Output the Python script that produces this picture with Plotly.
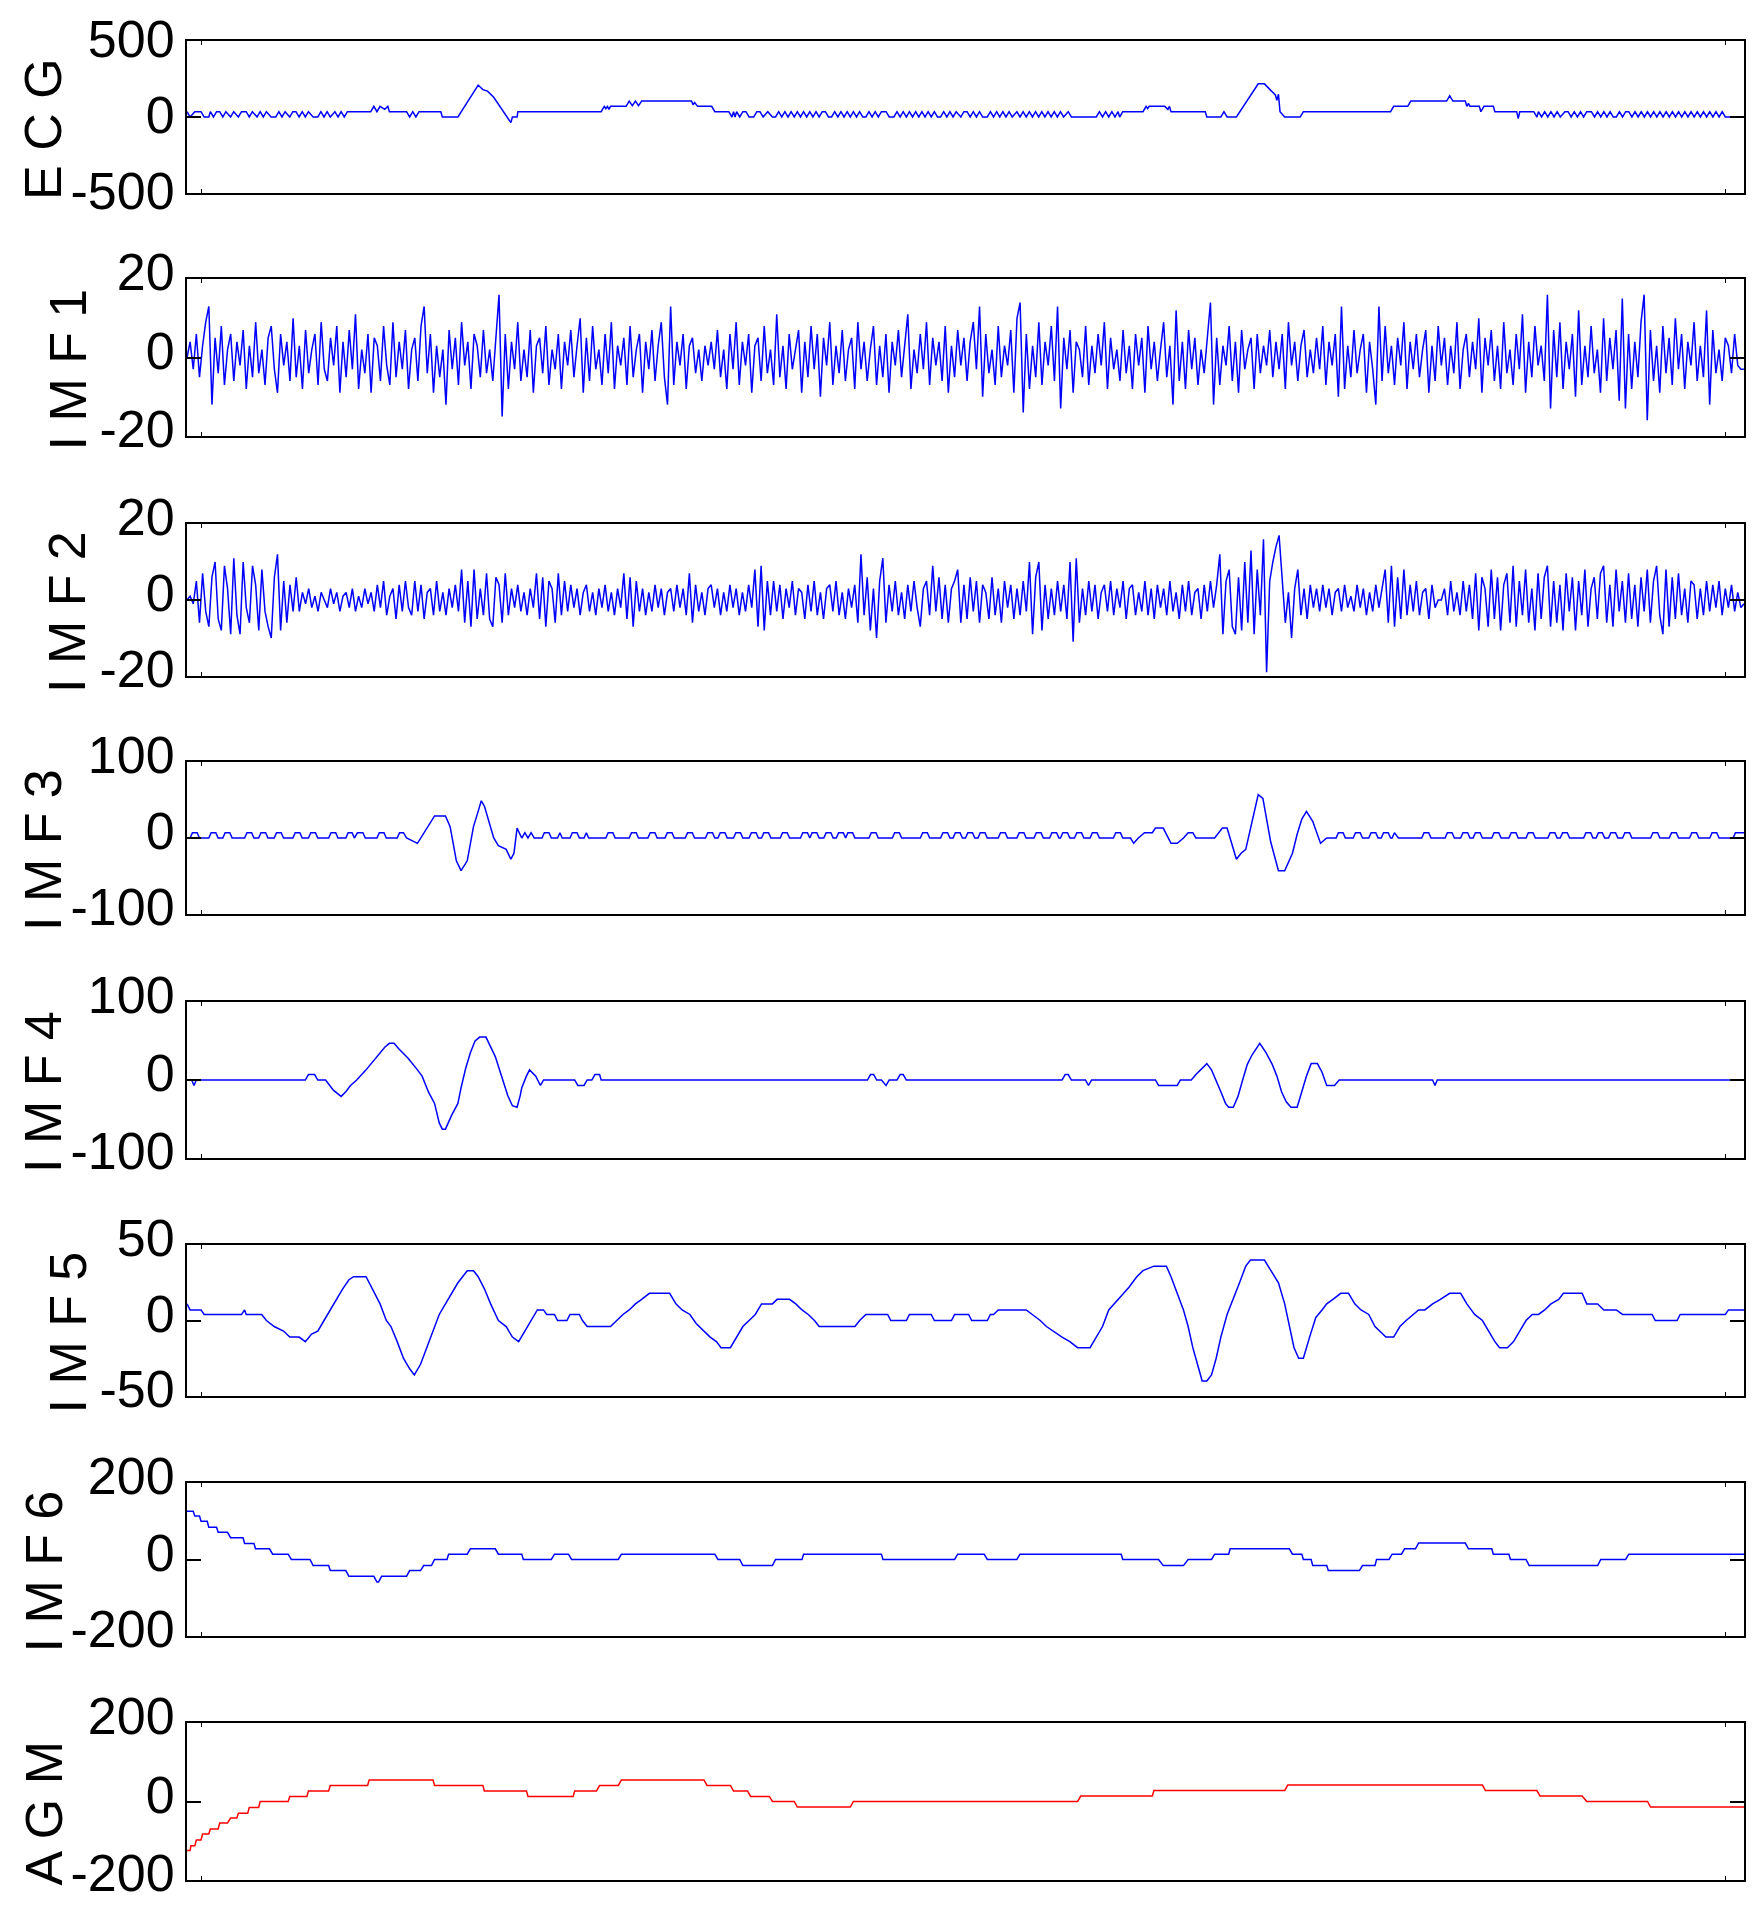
import numpy as np
import plotly.graph_objects as go

# ---------------- data (x in samples 0..1000, y in signal units) ----------------
ecg_pts = [(0,35),(2,0),(5,35),(9,35),(11,0),(14,0),(15,35),(17,0),(19,35),(21,35),(23,0),(25,35),(28,0),(30,35),(33,0),(35,35),(38,35),(40,0),
    (42,35),(45,0),(47,35),(49,0),(51,35),(54,0),(57,0),(59,35),(61,0),(63,35),(66,0),(68,35),(70,35),(72,0),(74,35),(76,0),(78,35),(81,0),(84,0),
    (86,35),(88,0),(90,35),(92,0),(95,35),(97,0),(99,35),(101,0),(103,35),(118,35),(120,70),(122,35),(124,70),(127,50),(129,70),(130,35),(141,35),
    (143,0),(145,35),(147,0),(149,35),(152,35),(163,35),(164,0),(174,0),(187,210),(190,180),(193,170),(197,130),(208,-37),(209,0),(212,0),(212.5,35),
    (266,35),(268,70),(269,55),(270,70),(271,50),(272,70),(282,70),(284,105),(286,75),(288,105),(290,75),(292,105),(324,105),(325,80),(326,95),
    (328,70),(337,70),(339,35),(348,35),(350,0),(351,35),(352,0),(353,35),(355,0),(357,35),(359,35),(361,0),(364,0),(366,35),(368,35),(370,0),
    (373,35),(376,0),(378,0),(380,35),(382,0),(384,35),(386,0),(388,35),(390,0),(392,35),(394,0),(396,35),(398,0),(400,35),(402,0),(404,35),
    (406,0),(408,35),(410,35),(412,0),(414,0),(416,35),(418,0),(420,35),(422,0),(424,35),(426,0),(428,35),(430,0),(432,35),(434,0),(436,0),
    (438,35),(440,0),(442,35),(444,0),(446,35),(449,35),(451,0),(454,0),(456,35),(458,0),(460,35),(462,0),(464,35),(466,0),(468,35),(470,0),
    (472,35),(474,0),(476,35),(478,0),(480,35),(482,0),(484,0),(486,35),(488,0),(490,35),(492,0),(494,35),(497,0),(499,35),(501,35),(503,0),
    (505,35),(507,0),(509,35),(511,0),(514,0),(516,35),(518,0),(520,35),(522,0),(524,35),(526,0),(528,35),(530,0),(533,35),(535,0),(537,35),
    (539,0),(541,35),(543,0),(545,35),(547,0),(549,35),(551,0),(553,35),(555,0),(557,35),(559,0),(561,35),(563,0),(566,35),(568,0),(584,0),
    (586,35),(588,0),(590,35),(592,0),(594,35),(596,0),(598,35),(599,0),(601,35),(614,35),(616,70),(617,55),(618,70),(628,70),(630,50),(631,70),
    (632,35),(654,35),(655,0),(664,0),(666,35),(668,0),(674,0),(688,218),(692,218),(699,145),(700,110),(701,150),(702,35),(705,0),(715,0),
    (717,35),(773,35),(775,70),(784,70),(786,105),(809,105),(811,140),(813,105),(821,105),(822,70),(823,90),(824,70),(830,70),(831,35),(833,70),
    (839,70),(840,35),(854,35),(855,-10),(856,35),(865,35),(867,0),(868,35),(870,0),(872,35),(874,0),(876,35),(878,0),(880,35),(882,0),(885,35),
    (887,35),(889,0),(891,35),(893,0),(895,35),(897,0),(899,35),(902,35),(904,0),(906,35),(908,0),(910,35),(912,0),(914,35),(916,0),(918,0),
    (920,35),(922,0),(924,35),(926,35),(928,0),(930,35),(932,0),(934,35),(936,0),(938,35),(940,0),(942,35),(944,0),(946,35),(948,0),(950,35),
    (952,0),(954,35),(956,0),(958,35),(960,0),(962,35),(964,0),(966,35),(968,0),(970,35),(972,0),(974,35),(976,0),(978,35),(980,0),(982,35),
    (984,0),(986,35),(988,0),(1000,0)]

imf1_vals = [
    0,4,-3,6,-5,3,9,13,-12,5,-4,8,-7,2,6,-6,4,-2,7,-8,3,-5,9,-4,2,
    -7,5,8,-3,-9,6,-2,4,-6,10,-5,3,-8,7,-4,2,6,-7,9,-3,-6,5,-2,8,-9,
    4,-5,7,-3,11,-8,2,-4,6,-9,5,3,-6,8,-2,-7,9,-5,4,-3,7,-8,2,5,-6,
    8,13,-4,6,-9,3,-5,2,-12,7,-3,5,-7,9,-2,4,-8,6,3,-5,7,-4,2,-6,5,
    16,-15,6,-8,4,-3,9,-6,2,-5,7,-9,3,5,-4,8,-7,2,-3,6,-8,4,-2,7,-5,
    3,10,-9,5,-6,8,-3,2,-7,6,-4,9,-8,3,-2,5,-7,8,-5,2,6,-9,4,-3,7,
    -6,3,9,-5,-12,13,-7,4,-2,6,-8,3,5,-4,2,-6,3,-2,4,-3,7,-5,2,-8,6,
    -3,9,-7,4,-2,6,-9,3,5,-6,8,-4,2,-7,11,-5,3,-8,6,-3,2,7,-9,4,-5,
    8,-3,6,-10,5,-2,9,-7,3,-4,7,-6,2,5,-8,9,-3,4,-6,2,8,-7,3,-5,6,
    -9,4,-2,7,-5,3,11,-8,2,-4,6,-3,9,-7,5,-2,4,-6,8,-9,3,-5,7,-2,5,
    -6,4,9,-3,13,-10,6,-4,2,-7,8,-5,3,-2,7,-9,10,14,-14,6,-8,3,-5,9,-7,
    4,-2,8,-6,13,-13,5,-3,7,-9,4,2,-5,8,-7,3,-4,6,-2,9,-8,5,-3,2,-6,
    7,-4,3,-8,6,-2,5,-9,8,-3,4,-6,2,9,-5,3,-12,12,-6,4,-8,7,-3,5,-7,
    2,-4,6,14,-12,5,-7,3,-2,8,-6,4,-9,7,-3,2,5,-8,6,-4,3,-2,7,-5,4,
    -3,6,-8,9,-2,4,-6,3,7,-5,2,-4,5,-3,8,-7,4,-2,6,-10,13,-8,3,-5,7,
    -4,2,6,-9,4,-3,-12,13,-6,8,-4,3,-7,5,-2,9,-8,4,-3,6,-5,2,7,-9,3,
    -6,8,-2,5,-7,3,-4,9,-8,2,6,-5,4,-3,10,-9,5,-2,7,-6,3,-8,9,-4,2,
    -7,6,-3,11,-9,4,-5,8,-2,3,-6,16,-13,7,-5,9,-8,4,-3,6,-10,12,-7,3,-5,
    8,-4,2,-9,10,-6,5,-3,7,-11,15,-13,6,-8,4,-5,9,16,-16,7,-6,3,-9,8,-4,
    5,-7,10,-3,6,-8,4,-2,9,-6,3,-5,12,-12,7,-4,2,-6,5,3,-4,6,-2,-3,-3]

imf2_vals = [
    0,1,-1,5,-6,7,-3,-7,6,
    10,-5,-8,9,3,-9,11,-4,-9,10,-2,-6,9,4,-8,8,-3,-7,-10,6,12,-8,
    5,-6,4,-3,6,
    -3,2,-1,3,-2,1,-3,2,0,-2,3,-1,2,-3,1,2,-2,3,-3,1,-2,3,-1,2,-3,
    4,-2,5,-4,1,3,-5,4,-3,5,-2,-4,5,-3,4,-5,2,3,-4,5,
    -3,2,-4,3,-2,4,-3,
    8,-6,5,-7,8,-5,
    3,-4,
    7,-5,-7,6,4,-6,7,
    -4,3,-2,4,-3,2,-4,3,-2,
    7,-5,6,-7,5,3,-6,7,-4,5,
    -3,4,-2,3,-4,2,4,-3,2,-4,3,-2,4,-3,2,-4,3,-2,
    7,-5,6,-7,5,-3,
    3,-4,2,-3,4,-2,3,-4,2,3,-3,4,-2,3,-4,
    7,-6,4,
    -3,2,-4,3,4,-2,3,-4,2,-3,4,-2,3,-4,2,-3,4,-2,
    8,-7,9,-8,5,
    -4,5,-3,4,-5,3,-2,5,-4,3,2,-5,4,-3,5,-4,2,-5,3,4,-3,5,-4,2,-5,3,-2,4,-6,
    12,-4,6,-8,3,-10,5,11,
    -6,4,-3,5,-4,2,-5,4,-3,5,-2,
    -7,3,5,-4,9,-3,
    6,-5,4,-6,3,5,8,
    -6,4,-5,6,-3,5,-6,4,2,-5,6,-4,3,-6,5,-2,4,-5,
    3,-4,5,-3,
    10,-9,6,10,-8,4,
    -5,3,-4,5,-3,4,-5,
    10,-11,11,-6,3,
    -4,5,-3,4,-5,2,4,-3,5,-4,3,-2,5,-5,3,4,-4,2,-3,5,-4,3,-5,4,-2,3,-4,5,-3,2,-5,4,-3,5,-4,2,3,-5,4,-3,5,-2,4,
    12,-9,5,8,-7,
    -9,6,-8,10,-6,13,-9,8,-4,16,
    -19,5,10,14,17,4,-6,2,-10,3,8,
    -4,3,-5,4,-2,3,
    -3,4,-2,3,-4,2,3,-3,4,-2,1,-3,4,-2,3,-4,2,-3,4,-2,3,
    8,-6,9,-7,6,-5,8,-4,
    4,-3,5,-4,2,3,-5,4,-2,0,0,3,-4,5,-3,2,-4,5,-3,4,-5,
    7,-8,6,3,-7,8,-5,6,-8,4,7,-6,9,-7,5,-4,8,-6,3,-8,7,-5,6,9,-7,
    5,-6,4,-8,7,-3,6,-8,5,-4,8,-7,3,6,-5,7,9,-6,4,-7,8,-3,5,-6,7,
    -5,4,-7,6,-3,8,-6,5,9,-4,-9,8,-7,6,-5,7,-4,3,-6,5,4,-5,3,-4,5,
    -3,4,-2,5,-4,3,-2,4,-3,2,-2,-1]

imf3_pts = [(0,0),(2,0),(3.5,7),(6.5,7),(8,0),(14,0),(15.5,7),(18.5,7),(20,0),(23,0),(24.5,7),(27.5,7),(29,0),(37,0),(38.5,7),(41.5,7),
    (43,0),(46,0),(47.5,7),(50.5,7),(52,0),(56,0),(57.5,7),(60.5,7),(62,0),(68,0),(69.5,7),(72.5,7),(74,0),(78,0),(79.5,7),(82.5,7),(84,0),
    (91,0),(92.5,7),(95.5,7),(97,0),(102,0),(103.5,7),(106,7),(107.5,0),(109.5,7),(113,7),(114.5,0),(122,0),(123.5,7),(126.5,7),(128,0),
    (135,0),(136.5,7),(139,7),(141,0),(148,-7),(153,10),(159,29),(166,29),(169,15),(173,-30),(176,-43),(180,-30),(182,-5),(184,15),(187,35),
    (189,49),(191,42),(194,20),(197,0),(200,-10),(205,-15),(208,-28),(210,-20),(212,13),(215,0),(217,7),(219,0),(221,7),(223,0),(228,0),
    (229.5,7),(232.5,7),(234,0),(238,0),(239.5,7),(241,0),(246,0),(247.5,7),(250.5,7),(252,0),(255,0),(256.5,7),(258,0),(269,0),(270.5,7),
    (273.5,7),(275,0),(284,0),(285.5,7),(288.5,7),(290,0),(296,0),(297.5,7),(300.5,7),(302,0),(307,0),(308.5,7),(311.5,7),(313,0),(320,0),
    (321.5,7),(324.5,7),(326,0),(333,0),(334.5,7),(337.5,7),(339,0),(341,0),(342.5,7),(345.5,7),(347,0),(351,0),(352.5,7),(355.5,7),(357,0),
    (361,0),(362.5,7),(365.5,7),(367,0),(369,0),(370.5,7),(373.5,7),(375,0),(381,0),(382.5,7),(385.5,7),(387,0),(394,0),(395.5,7),(398.5,7),
    (400,0),(401.5,7),(404.5,7),(406,0),(409,0),(410.5,7),(413.5,7),(415,0),(417,0),(418.5,7),(421.5,7),(423,0),(424.5,7),(427.5,7),(429,0),
    (438,0),(439.5,7),(442.5,7),(444,0),(453,0),(454.5,7),(457.5,7),(459,0),(471,0),(472.5,7),(475.5,7),(477,0),(484,0),(485.5,7),(488.5,7),
    (490,0),(492,0),(493.5,7),(496.5,7),(498,0),(500,0),(501.5,7),(504.5,7),(506,0),(508,0),(509.5,7),(512.5,7),(514,0),(521,0),(522.5,7),
    (525.5,7),(527,0),(533,0),(534.5,7),(537.5,7),(539,0),(544,0),(545.5,7),(548.5,7),(550,0),(554,0),(555.5,7),(558.5,7),(560,0),(561,0),
    (562.5,7),(565.5,7),(567,0),(570,0),(571.5,7),(574.5,7),(576,0),(580,0),(581.5,7),(584.5,7),(586,0),(595,0),(596.5,7),(599.5,7),(601,0),
    (606,0),(608,-7),(611,0),(615,7),(620,7),(622,13),(627,13),(632,-7),(636,-7),(640,0),(643,7),(646,7),(648,0),(660,0),(665,13),(668,13),
    (674,-28),(677,-20),(680,-15),(684,20),(688,57),(691,52),(696,-5),(701,-43),(705,-43),(710,-20),(713,5),(716,25),(719,35),(723,22),
    (728,-7),(732,0),(738,0),(739.5,7),(742.5,7),(744,0),(749,0),(750.5,7),(753.5,7),(755,0),(759,0),(760.5,7),(763.5,7),(765,0),(767,0),
    (768.5,7),(771.5,7),(773,0),(774,0),(775.5,7),(778,0),(793,0),(794.5,7),(797.5,7),(799,0),(808,0),(809.5,7),(812.5,7),(814,0),(818,0),
    (819.5,7),(822.5,7),(824,0),(826,0),(827.5,7),(830.5,7),(832,0),(838,0),(839.5,7),(842.5,7),(844,0),(849,0),(850.5,7),(853.5,7),(855,0),
    (860,0),(861.5,7),(864.5,7),(866,0),(874,0),(875.5,7),(878.5,7),(880,0),(882,0),(883.5,7),(886.5,7),(888,0),(897,0),(898.5,7),(901.5,7),
    (903,0),(905,0),(906.5,7),(909,7),(910.5,0),(913,0),(914.5,7),(917.5,7),(919,0),(922,0),(923.5,7),(926.5,7),(928,0),(940,0),(941.5,7),
    (944.5,7),(946,0),(952,0),(953.5,7),(956.5,7),(958,0),(965,0),(966.5,7),(969.5,7),(971,0),(978,0),(979.5,7),(982.5,7),(984,0),(993,0),
    (994.5,7),(1000,7)]

imf4_pts = [(0,0),(3,0),(4.5,-7),(6,0),(76,0),(78,7),(82,7),(84,0),(89,0),(94,-13),(99,-21),(102,-15),(105,-7),(109,0),(115,13),(122,30),
    (127,42),(130,47),(133,47),(136,40),(142,28),(148,13),(151,5),(155,-15),(159,-30),(162,-55),(164,-63),(166,-63),(170,-45),(174,-30),
    (176,-10),(179,15),(182,35),(185,50),(188,55),(192,55),(195,42),(198,30),(202,5),(206,-20),(209,-33),(212,-35),(214,-20),(215,-10),
    (218,5),(220,13),(224,5),(227,-7),(229,0),(249,0),(251,-7),(255,-7),(257,0),(260,0),(262,7),(265,7),(266,0),(437,0),(439,7),(441,7),
    (443,0),(446,0),(449,-7),(451,0),(456,0),(458,7),(460,7),(462,0),(562,0),(564,7),(566,7),(568,0),(577,0),(579,-7),(581,0),(622,0),
    (624,-7),(636,-7),(638,0),(645,0),(648,7),(651,13),(655,21),(658,13),(661,0),(664,-15),(667,-30),(669,-35),(672,-35),(675,-21),(678,0),
    (681,20),(684,32),(689,47),(693,35),(697,20),(700,5),(703,-15),(706,-28),(709,-35),(713,-35),(716,-15),(719,5),(722,21),(726,21),
    (729,10),(732,-7),(737,-7),(740,0),(800,0),(801.5,-7),(803,0),(1000,0)]

imf5_pts = [(0,11),(2,7),(9,7),(11,4),(35,4),(37,7),(38,4),(48,4),(51,0),(56,-4),(62,-7),(66,-11),(72,-11),(76,-14),(80,-9),(84,-7),(88,0),
    (92,7),(96,14),(100,21),(104,27),(107,29),(115,29),(119,21),(124,11),(128,0),(131,-4),(135,-14),(139,-25),(143,-32),(146,-36),(150,-29),
    (154,-18),(158,-7),(162,4),(166,11),(170,18),(174,25),(177,29),(180,33),(184,33),(187,29),(191,21),(195,11),(200,0),(205,-4),(209,-11),
    (213,-14),(217,-7),(221,0),(225,7),(229,7),(231,4),(236,4),(238,0),(244,0),(246,4),(252,4),(254,0),(257,-4),(272,-4),(276,0),(280,4),
    (284,7),(288,11),(292,14),(297,18),(310,18),(314,11),(318,7),(323,4),(327,-2),(332,-7),(336,-11),(340,-14),(343,-18),(349,-18),(353,-11),
    (357,-4),(361,0),(365,4),(369,11),(376,11),(379,14),(387,14),(391,11),(395,7),(399,4),(403,0),(406,-4),(429,-4),(432,0),(436,4),(450,4),
    (452,0),(462,0),(464,4),(478,4),(480,0),(491,0),(493,4),(502,4),(504,0),(514,0),(516,4),(518,4),(521,7),(539,7),(543,4),(548,0),(552,-4),
    (556,-7),(562,-11),(567,-14),(572,-18),(580,-18),(584,-11),(588,-4),(592,7),(598,14),(605,22),(610,29),(614,33),(621,36),(629,36),(632,29),
    (636,18),(640,7),(643,-4),(646,-18),(649,-29),(652,-40),(655,-40),(658,-36),(661,-25),(664,-11),(668,4),(672,14),(676,25),(680,36),
    (683,40),(692,40),(696,33),(701,25),(705,11),(708,-4),(711,-18),(714,-25),(717,-25),(721,-11),(725,2),(729,7),(732,11),(736,14),(741,18),
    (746,18),(750,11),(754,7),(759,4),(763,-4),(766,-7),(770,-11),(775,-11),(779,-4),(783,0),(788,4),(791,7),(795,7),(800,11),(805,14),
    (811,18),(818,18),(822,11),(827,4),(832,0),(836,-7),(840,-14),(843,-18),(848,-18),(852,-14),(856,-7),(860,0),(864,4),(868,4),(872,7),
    (876,11),(881,14),(884,18),(896,18),(899,11),(906,11),(910,7),(918,7),(922,4),(941,4),(943,0),(957,0),(959,4),(988,4),(990,7),(1000,7)]

imf6_pts = [(0,126),(4,126),(5,114),(8,114),(9,100),(13,100),(14,84),(19,84),(20,71),(26,71),(28,57),(36,57),(37,42),(43,42),(44,28),(53,28),
    (55,14),(65,14),(67,0),(79,0),(81,-16),(91,-16),(92,-29),(102,-29),(104,-44),(120,-44),(122,-59),(123,-59),(125,-44),(141,-44),(143,-29),
    (150,-29),(152,-16),(157,-16),(159,0),(167,0),(168,14),(180,14),(182,28),(198,28),(200,14),(215,14),(216,0),(234,0),(236,14),(245,14),
    (247,0),(277,0),(279,14),(339,14),(341,0),(355,0),(357,-16),(376,-16),(378,0),(395,0),(396,14),(446,14),(447,0),(493,0),(495,14),(512,14),
    (514,0),(533,0),(535,14),(600,14),(601,0),(624,0),(627,-16),(640,-16),(643,0),(658,0),(660,14),(669,14),(670,28),(708,28),(710,14),
    (716,14),(717,0),(722,0),(723,-16),(732,-16),(733,-29),(753,-29),(755,-16),(763,-16),(764,0),(772,0),(774,14),(780,14),(782,28),(789,28),
    (791,43),(821,43),(823,28),(838,28),(839,14),(849,14),(850,0),(860,0),(862,-16),(906,-16),(908,0),(924,0),(926,14),(1000,14)]

agm_pts = [(0,-125),(2,-125),(2.5,-113),(5,-113),(6,-98),(9,-98),(10,-83),(14,-83),(15,-70),(20,-70),(21,-55),(26,-55),(28,-42),(32,-42),
    (33,-30),(39,-30),(40,-15),(46,-15),(47,0),(65,0),(66,13),(77,13),(78,27),(91,27),(92,41),(116,41),(117,55),(158,55),(159,41),(190,41),
    (191,27),(218,27),(219,13),(248,13),(249,27),(263,27),(265,41),(277,41),(279,55),(332,55),(334,41),(349,41),(351,27),(360,27),(362,13),
    (374,13),(376,0),(390,0),(392,-14),(426,-14),(428,0),(572,0),(574,14),(620,14),(621,28),(705,28),(707,42),(832,42),(834,28),(867,28),
    (869,14),(896,14),(899,0),(938,0),(940,-14),(1000,-14)]

labels = ["E C G", "I M F 1", "I M F 2", "I M F 3", "I M F 4", "I M F 5", "I M F 6", "A G M"]
limits = [500, 20, 20, 100, 100, 50, 200, 200]

# ---------------- layout geometry (page pixels) ----------------
OFF = 8                      # default page body margin
W, H = 1760 - OFF, 1910 - OFF
L, R = 187 - OFF, 1744 - OFF
tops = [t - OFF for t in [41, 279, 524, 762, 1002, 1245, 1483, 1723]]
heights = [152, 157, 152, 152, 156, 151, 153, 157]
title_px = [t - OFF for t in [43, 67, 67, 43, 43, 67, 43, 43]]
label_shift = [-2, -7, -7, -7, -7, -7, -7, -7]

def unzip(pts):
    return [p[0] for p in pts], [p[1] for p in pts]

series = []
series.append(unzip(ecg_pts))
series.append((list(np.linspace(0, 1000, len(imf1_vals))), imf1_vals))
series.append((list(np.linspace(0, 1000, len(imf2_vals))), imf2_vals))
series.append(unzip(imf3_pts))
series.append(unzip(imf4_pts))
series.append(unzip(imf5_pts))
series.append(unzip(imf6_pts))
series.append(unzip(agm_pts))
colors = ["#0000ff"] * 7 + ["#ff0000"]

FONT = "Liberation Sans, Arial, Helvetica, sans-serif"

fig = go.Figure()
layout = dict(width=W, height=H, margin=dict(l=L, r=W - R, t=0, b=0, pad=0, autoexpand=False),
              paper_bgcolor="white", plot_bgcolor="white", showlegend=False, template="none")
annotations = []
for i in range(8):
    n = "" if i == 0 else str(i + 1)
    xs, ys = series[i]
    fig.add_trace(go.Scatter(x=xs, y=ys, mode="lines", line=dict(color=colors[i], width=1.5),
                             xaxis="x" + n, yaxis="y" + n, hoverinfo="skip"))
    y1 = 1 - tops[i] / H
    y0 = 1 - (tops[i] + heights[i]) / H
    lim = limits[i]
    layout["xaxis" + n] = dict(domain=[0, 1], anchor="y" + n, range=[0, 1000], showgrid=False, zeroline=False,
                               showticklabels=False, ticks="inside", ticklen=4, tickvals=[9, 988], automargin=False,
                               showline=True, linecolor="black", linewidth=2, mirror="ticks", tickcolor="black")
    layout["yaxis" + n] = dict(domain=[y0, y1], anchor="x" + n, range=[-lim, lim], showgrid=False, zeroline=False,
                               tickvals=[-lim, 0, lim], ticktext=[str(-lim), "0", str(lim)], automargin=False,
                               ticks="inside", ticklen=14, tickwidth=2, tickcolor="black",
                               showline=True, linecolor="black", linewidth=2, mirror="ticks",
                               tickfont=dict(family=FONT, size=52, color="black"),
                               ticklabelstandoff=0, ticklabelshift=label_shift[i], ticklabeloverflow="allow")
    annotations.append(dict(text=labels[i], textangle=-90, xref="paper", yref="paper",
                            x=(title_px[i] - L) / (R - L), y=1 - (tops[i] + heights[i] / 2 + 12) / H,
                            xanchor="center", yanchor="middle", showarrow=False,
                            font=dict(family=FONT, size=52, color="black")))
layout["annotations"] = annotations
fig.update_layout(**layout)
fig.write_html("out.html")
